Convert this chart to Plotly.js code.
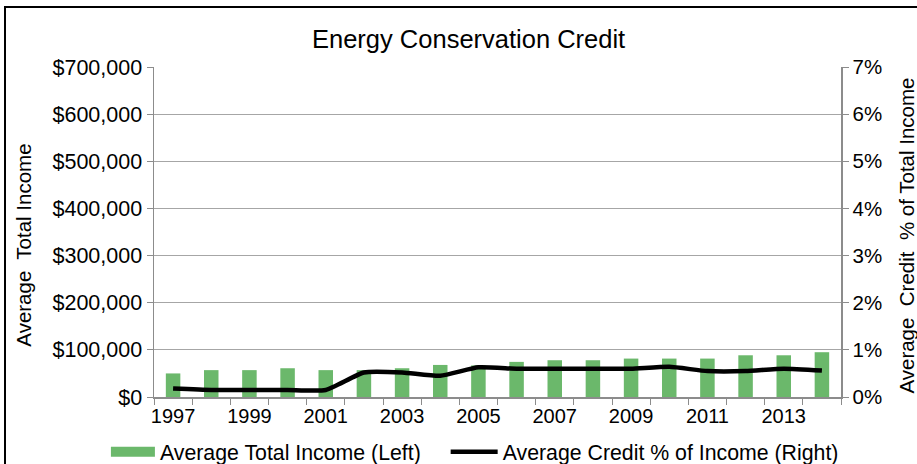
<!DOCTYPE html>
<html>
<head>
<meta charset="utf-8">
<script src="https://cdn.plot.ly/plotly-3.0.1.min.js"></script>
<style>
  html, body { margin: 0; padding: 0; background: #fff; }
  #wrap { position: relative; width: 917px; height: 464px; overflow: hidden; }
  #chart { position: absolute; left: 0; top: 0; width: 917px; height: 464px; }
  #frame { position: absolute; left: 4px; top: 6px; width: 1000px; height: 1000px;
           border-left: 2px solid #000; border-top: 2px solid #000; pointer-events: none; }
</style>
</head>
<body>
<div id="wrap">
  <div id="chart"></div>
  <div id="frame"></div>
</div>
<script>
const years = [1997,1998,1999,2000,2001,2002,2003,2004,2005,2006,2007,2008,2009,2010,2011,2012,2013,2014];
const avgIncome = [50000,57000,57000,61000,57000,57000,61000,68000,67000,74500,78000,78000,81500,81500,81500,88500,88500,95000];
const creditPct = [0.18,0.15,0.15,0.15,0.15,0.52,0.52,0.45,0.63,0.60,0.60,0.60,0.60,0.64,0.55,0.55,0.60,0.56];
const leftTicks = [0,100000,200000,300000,400000,500000,600000,700000];
const leftTickText = ['$0','$100,000','$200,000','$300,000','$400,000','$500,000','$600,000','$700,000'];
const rightTicks = [0,1,2,3,4,5,6,7];
const rightTickText = ['0%','1%','2%','3%','4%','5%','6%','7%'];
const xTickYears = [1997,1999,2001,2003,2005,2007,2009,2011,2013];

const FONT = 'Liberation Sans, Arial, sans-serif';
const GREEN = '#6bb86b';

const traces = [
  {
    type: 'bar', x: years, y: avgIncome, name: 'Average Total Income (Left)',
    marker: { color: GREEN }, width: 0.38, showlegend: false, hoverinfo: 'x+y'
  },
  {
    type: 'scatter', mode: 'lines', x: years, y: creditPct, yaxis: 'y2',
    name: 'Average Credit % of Income (Right)',
    line: { color: '#000', width: 4.5, shape: 'spline', smoothing: 0.5 }, showlegend: false
  },
  {
    type: 'scatter', mode: 'lines', x: [null], y: [null], name: 'Average Total Income (Left)',
    line: { color: GREEN, width: 10 }, hoverinfo: 'skip', legend: 'legend'
  },
  {
    type: 'scatter', mode: 'lines', x: [null], y: [null], yaxis: 'y2', name: 'Average Credit % of Income (Right)',
    line: { color: '#000', width: 4.5 }, hoverinfo: 'skip', legend: 'legend2'
  }
];

const legendFont = { family: FONT, size: 21.3, color: '#000' };

const layout = {
  width: 917, height: 464,
  margin: { l: 154, r: 76, t: 67, b: 67, autoexpand: false },
  paper_bgcolor: 'rgba(0,0,0,0)', plot_bgcolor: '#fff',
  font: { family: FONT, size: 20, color: '#000' },
  title: { text: 'Energy Conservation Credit', font: { family: FONT, size: 25.5, color: '#000' },
           x: 0.511, xanchor: 'center', y: 0.915, yanchor: 'middle' },
  showlegend: true,
  legend: { orientation: 'h', xref: 'container', yref: 'container', x: 0.1155, xanchor: 'left', y: 0.026, yanchor: 'middle',
            font: legendFont, itemwidth: 44, bgcolor: 'rgba(0,0,0,0)' },
  legend2: { orientation: 'h', xref: 'container', yref: 'container', x: 0.486, xanchor: 'left', y: 0.026, yanchor: 'middle',
            font: legendFont, itemwidth: 47, bgcolor: 'rgba(0,0,0,0)' },
  xaxis: {
    type: 'linear', range: [1996.5, 2014.5], tickvals: xTickYears, ticktext: xTickYears.map(String),
    ticks: 'outside', ticklen: 0, tickcolor: 'rgba(0,0,0,0)', automargin: false,
    minor: { ticks: 'outside', ticklen: 6, tickcolor: '#8c8c8c', tick0: 1996.5, dtick: 1, showgrid: false },
    showline: true, linecolor: '#8c8c8c', linewidth: 1.5, showgrid: false, zeroline: false,
    tickfont: { family: FONT, size: 20, color: '#000' }
  },
  yaxis: {
    range: [0, 700000], tickvals: leftTicks, ticktext: leftTickText, automargin: false,
    ticks: 'outside', ticklen: 6, tickcolor: '#8c8c8c',
    showline: true, linecolor: '#8c8c8c', linewidth: 1.5,
    showgrid: true, gridcolor: '#a6a6a6', gridwidth: 1.2, zeroline: false,
    tickfont: { family: FONT, size: 21.5, color: '#000' }
  },
  yaxis2: {
    range: [0, 7], overlaying: 'y', side: 'right', tickvals: rightTicks, ticktext: rightTickText, automargin: false,
    ticks: 'outside', ticklen: 6, tickcolor: '#8c8c8c',
    showline: true, linecolor: '#8c8c8c', linewidth: 1.5, showgrid: false, zeroline: false,
    tickfont: { family: FONT, size: 20.5, color: '#000' }
  },
  annotations: [
    { text: 'Average  Total Income', xref: 'paper', yref: 'paper', x: -0.19, y: 0.46,
      xanchor: 'center', yanchor: 'middle', textangle: -90, showarrow: false,
      font: { family: FONT, size: 20.5, color: '#000' } },
    { text: 'Average  Credit  % of Total Income', xref: 'paper', yref: 'paper', x: 1.095, y: 0.49,
      xanchor: 'center', yanchor: 'middle', textangle: -90, showarrow: false,
      font: { family: FONT, size: 20.5, color: '#000' } }
  ]
};

Plotly.newPlot('chart', traces, layout, { displayModeBar: false, staticPlot: true });
</script>
</body>
</html>
